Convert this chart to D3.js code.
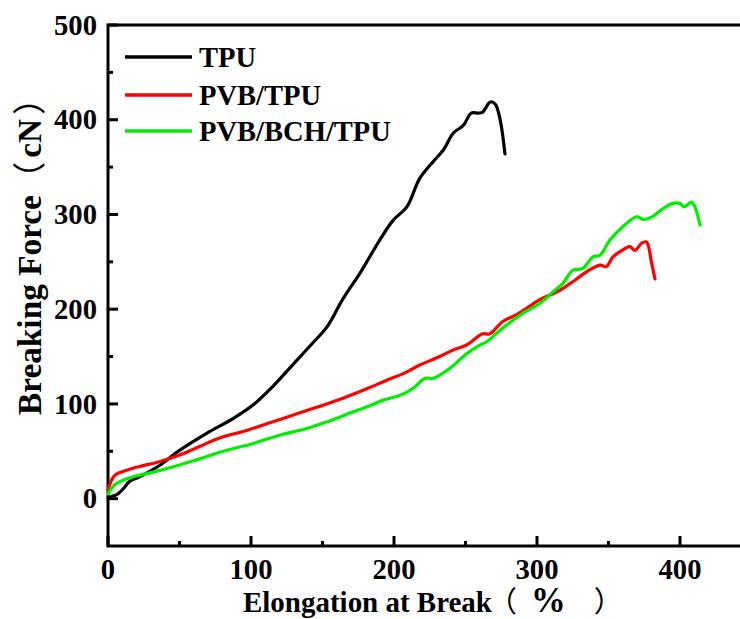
<!DOCTYPE html>
<html><head><meta charset="utf-8">
<script src="https://cdn.jsdelivr.net/npm/d3@7"></script>
<style>
html,body{margin:0;padding:0;background:#fff;}
svg{display:block;}
</style></head>
<body>
<svg id="c" width="740" height="619"></svg>
<script>
const seriesNames = ["TPU", "PVB/TPU", "PVB/BCH/TPU"];
const seriesColors = ["#000000", "#ff0000", "#00ee00"];
const xTicks = [0, 100, 200, 300, 400];
const yTicks = [0, 100, 200, 300, 400, 500];

const tpu = [[0,1],[4,3],[7,5],[11,11],[15,18],[22,23],[36,35],[50,51],[69,69],[88,85],[101.6,99],[115,118],[129,141],[143,164],[153,181],[164,210],[177,240],[190,273],[199.5,294],[209,308],[218,338],[227.5,356],[234.5,368],[241.5,386],[248.5,394],[254,407],[259,407],[262,408],[266,417],[268,419],[271,416],[273.5,405],[275.5,389],[277.6,364]];
const pvbTpu = [[0,9],[2,18],[5,25],[13,30],[22,34],[36,39],[50,46],[64,55],[78,64],[97,72],[111,79],[125,86],[139,93],[153,100],[167,107.5],[181,116],[195,125],[206.5,132],[218,141],[232,150],[241.5,157],[250.5,162],[262,174],[267,174],[276,187],[285.5,194],[292.7,201],[302,210],[316,220],[325,229],[334.6,239.5],[344,246.5],[348.5,245],[353,255],[358,260.6],[365,266],[368.5,262],[373,269.5],[376.6,271],[378,266],[380,250],[382.5,232]];
const pvbBchTpu = [[0,5],[3,12],[6,16],[17.6,23],[31.7,28],[45.7,33.6],[64,42],[83,51],[101,58],[120,67],[139,74],[153,81],[171.5,91.6],[183,98],[192.5,104],[204,109],[213,116],[221.7,127],[227.5,127],[239,137.5],[250.8,153],[260,162],[264.8,165.6],[276,180],[290,195.6],[302,206],[311,218],[318,227],[325,241],[332,243],[339,255],[344,257],[351,273],[360,287],[369.7,297.6],[374.5,294.8],[381,298],[388,306],[395,311.7],[400,311.7],[403,308],[408,313],[410.5,308],[412.5,298],[414,289]];
const allSeries = [tpu, pvbTpu, pvbBchTpu];

const FONT = '"Liberation Serif"';
const CJK = '"Noto Sans CJK SC"';
function txt(sel, size) {
  return sel.style("font-family", FONT).style("font-weight", "bold").style("font-size", size + "px").attr("fill", "#000");
}
// fit font size so that the main words span a target width
function fitSize(sel, target) {
  const len = sel.node().getComputedTextLength();
  const cur = parseFloat(sel.style("font-size"));
  return len > 0 ? cur * target / len : cur;
}
function title(sel, main, unit, target, gaps, unitScale) {
  txt(sel, 28);
  const m = sel.append("tspan").text(main);
  const size = fitSize(m, target);
  sel.style("font-size", size + "px");
  sel.append("tspan").style("font-family", CJK).style("font-weight", "normal").attr("dx", gaps[0]).text("（");
  sel.append("tspan").attr("dx", gaps[1]).style("font-size", (size * unitScale) + "px").text(unit);
  sel.append("tspan").style("font-family", CJK).style("font-weight", "normal").attr("dx", gaps[2]).text("）");
  return sel;
}

const svg = d3.select("#c");
const x = d3.scaleLinear().domain([0, 450]).range([108, 751.5]);
const y = d3.scaleLinear().domain([-50, 500]).range([546, 25]);

// frame
svg.append("rect").attr("x", x(0)).attr("y", y(500))
  .attr("width", x(450) - x(0)).attr("height", y(-50) - y(500))
  .attr("fill", "none").attr("stroke", "#000").attr("stroke-width", 3);

// ticks
const g = svg.append("g");
const probe = txt(svg.append("text"), 28).text("500");
const tickSize = fitSize(probe, 43);
probe.remove();
xTicks.forEach(t => {
  g.append("line").attr("x1", x(t)).attr("x2", x(t)).attr("y1", y(-50)).attr("y2", y(-50) - 10).attr("stroke", "#000").attr("stroke-width", 3);
  txt(g.append("text"), tickSize).attr("x", x(t)).attr("y", 579).attr("text-anchor", "middle").text(t);
});
d3.range(50, 450, 100).forEach(t => {
  g.append("line").attr("x1", x(t)).attr("x2", x(t)).attr("y1", y(-50)).attr("y2", y(-50) - 5).attr("stroke", "#000").attr("stroke-width", 3);
});
yTicks.forEach(t => {
  g.append("line").attr("x1", x(0)).attr("x2", x(0) + 10).attr("y1", y(t)).attr("y2", y(t)).attr("stroke", "#000").attr("stroke-width", 3);
  txt(g.append("text"), tickSize).attr("x", 97).attr("y", y(t)).attr("dy", "0.34em").attr("text-anchor", "end").text(t);
});
d3.range(50, 500, 100).forEach(t => {
  g.append("line").attr("x1", x(0)).attr("x2", x(0) + 5).attr("y1", y(t)).attr("y2", y(t)).attr("stroke", "#000").attr("stroke-width", 3);
});

// axis titles
title(svg.append("text"), "Elongation at Break", "%", 249, [-4, 14, 28], 1.2).attr("x", 243).attr("y", 612);
title(svg.append("text"), "Breaking Force", "cN", 220, [0, 4, 4], 1).attr("transform", "translate(41,415) rotate(-90)");

// lines
const line = d3.line().x(d => x(d[0])).y(d => y(d[1])).curve(d3.curveCatmullRom.alpha(0.5));
allSeries.forEach((s, i) => {
  svg.append("path").datum(s).attr("d", line).attr("fill", "none")
    .attr("stroke", seriesColors[i]).attr("stroke-width", 3.2).attr("stroke-linejoin", "round").attr("stroke-linecap", "round");
});

// legend
const legY = [57, 95, 131];
const lp = txt(svg.append("text"), 28).text(seriesNames[2]);
const legSize = fitSize(lp, 192);
lp.remove();
seriesNames.forEach((n, i) => {
  svg.append("line").attr("x1", 125).attr("x2", 192).attr("y1", legY[i]).attr("y2", legY[i]).attr("stroke", seriesColors[i]).attr("stroke-width", 3.5);
  txt(svg.append("text"), legSize).attr("x", 199).attr("y", legY[i]).attr("dy", "0.34em").text(n);
});
</script>
</body></html>
